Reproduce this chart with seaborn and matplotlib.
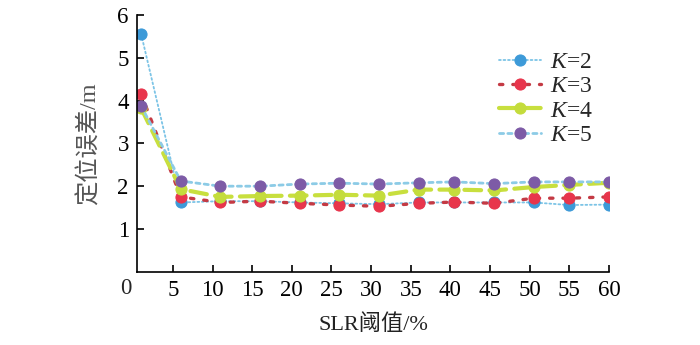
import matplotlib
matplotlib.use("Agg")
import matplotlib.pyplot as plt
import seaborn as sns
import pandas as pd

sns.set_theme(style="white")
plt.rcParams['font.family'] = ['Liberation Serif', 'Noto Sans CJK SC']
plt.rcParams['mathtext.fontset'] = 'custom'
plt.rcParams['mathtext.it'] = 'Liberation Serif:italic'
plt.rcParams['mathtext.rm'] = 'Liberation Serif'

# data
slr = [1, 6, 11, 16, 21, 26, 31, 36, 40.5, 45.5, 50.5, 55, 60]
k2 = [5.55, 1.62, 1.65, 1.65, 1.62, 1.6, 1.58, 1.62, 1.62, 1.62, 1.62, 1.56, 1.57]
k3 = [4.15, 1.75, 1.62, 1.65, 1.6, 1.56, 1.53, 1.6, 1.63, 1.6, 1.72, 1.72, 1.75]
k4 = [3.82, 1.93, 1.75, 1.77, 1.78, 1.8, 1.78, 1.92, 1.92, 1.9, 1.98, 2.03, 2.08]
k5 = [3.87, 2.12, 2.0, 2.0, 2.05, 2.07, 2.05, 2.08, 2.1, 2.06, 2.1, 2.1, 2.1]
labels = ["$K$=2", "$K$=3", "$K$=4", "$K$=5"]
xticks = [5, 10, 15, 20, 25, 30, 35, 40, 45, 50, 55, 60]
yticks = [1, 2, 3, 4, 5, 6]

series = [k2, k3, k4, k5]
marker_colors = ['#3d9ad8', '#e8354c', '#c4dc3c', '#7d5ba6']
line_colors = ['#7cc4e6', '#c43a44', '#c8df3e', '#8ccbe6']
line_styles = [(0, (1, 1.5)), (0, (1, 3)), (0, (4, 2)), (0, (1.5, 1.5))]
line_widths = [1.3, 2.4, 3.0, 2.0]

fig = plt.figure(figsize=(7, 3.45), dpi=100)
ax = fig.add_axes([0.196, 0.212, 0.674, 0.745])

for vals, lab, mc, lc, ls, lw in zip(series, labels, marker_colors, line_colors, line_styles, line_widths):
    df = pd.DataFrame({"x": slr, "y": vals})
    sns.lineplot(data=df, x="x", y="y", ax=ax, color=lc, linestyle=ls, linewidth=lw,
                 marker='o', markersize=8, markerfacecolor=mc, markeredgecolor=mc,
                 label=lab, dash_capstyle='round')

ax.set_xlim(0.5, 60)
ax.set_ylim(0, 6)
ax.set_xticks(xticks)
ax.set_yticks(yticks)
ax.tick_params(axis='both', direction='in', length=5, width=1.2, colors='black',
               labelsize=16.5, pad=6, bottom=True, left=True)
for s in ['top', 'right']:
    ax.spines[s].set_visible(False)
for s in ['left', 'bottom']:
    ax.spines[s].set_color('black')
    ax.spines[s].set_linewidth(1.2)

ax.text(-0.012, -0.025, "0", transform=ax.transAxes, ha='right', va='top', fontsize=16.5)
ax.set_xlabel("SLR阈值/%", fontsize=16, labelpad=9, color='#222222')
ax.set_ylabel("定位误差/m", fontsize=17.5, labelpad=12, color='#555555')

leg = ax.legend(loc='upper right', bbox_to_anchor=(0.985, 0.895), frameon=False, fontsize=17,
                handlelength=1.8, handletextpad=0.35, labelspacing=0.12, borderaxespad=0)

fig.savefig("out.png", dpi=100)
